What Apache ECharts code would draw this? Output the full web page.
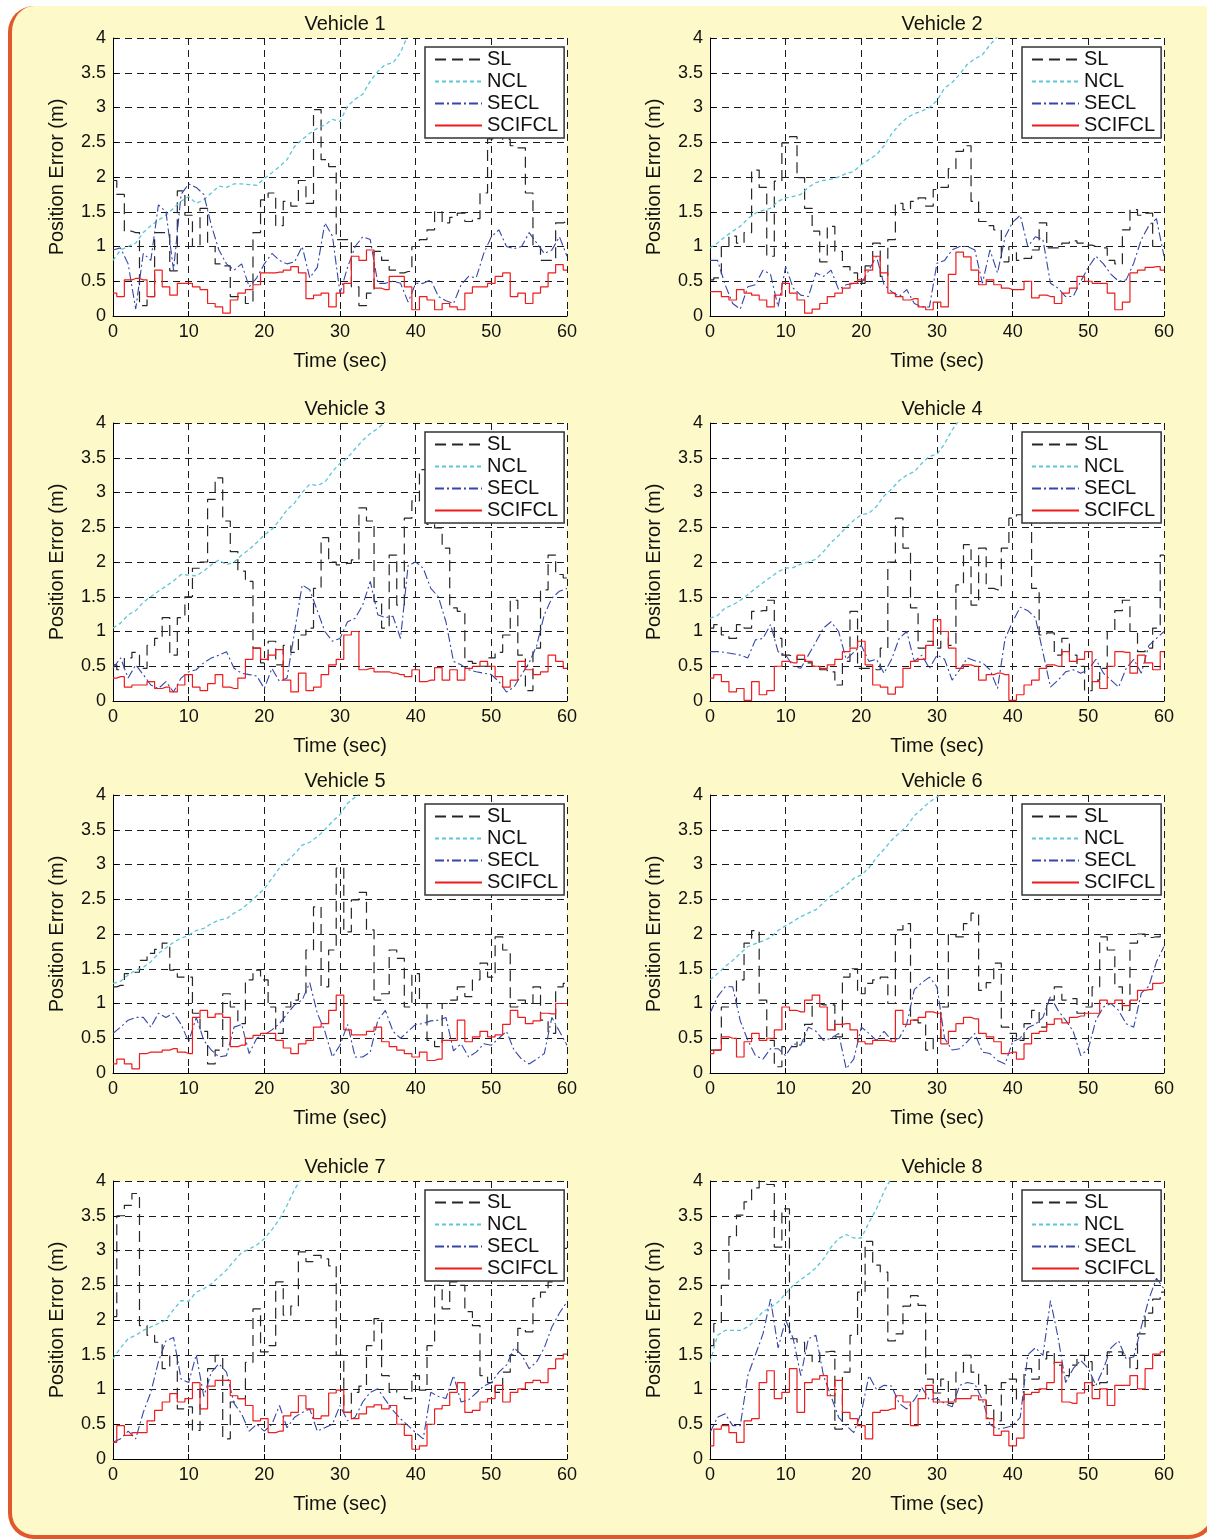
<!DOCTYPE html>
<html>
<head>
<meta charset="utf-8">
<title>Position error per vehicle</title>
<script src="https://cdn.jsdelivr.net/npm/echarts@6.0.0/dist/echarts.min.js"></script>
<style>
  html, body { margin: 0; padding: 0; background: #fff; overflow: hidden; }
  #frame {
    position: absolute; left: 8px; top: 6px; width: 1207px; height: 1533px;
    background: #fdf9c8; box-sizing: border-box;
    border-left: 4px solid #e2582c; border-bottom: 4px solid #e2582c; border-right: 4px solid #e2582c;
    border-radius: 26px 0 26px 26px;
  }
  #chart { position: absolute; left: 0; top: 0; width: 1207px; height: 1539px; }
</style>
</head>
<body>
<div id="frame"></div>
<div id="chart"></div>
<script>
// time axis samples (s)
const seconds = [0,1,2,3,4,5,6,7,8,9,10,11,12,13,14,15,16,17,18,19,20,21,22,23,24,25,26,27,28,29,30,
  31,32,33,34,35,36,37,38,39,40,41,42,43,44,45,46,47,48,49,50,51,52,53,54,55,56,57,58,59,60];
const timeTicks = [0, 10, 20, 30, 40, 50, 60];
const errorTicks = [0, 0.5, 1, 1.5, 2, 2.5, 3, 3.5, 4];
const seriesNames = ['SL', 'NCL', 'SECL', 'SCIFCL'];
const vehicleNames = ['Vehicle 1', 'Vehicle 2', 'Vehicle 3', 'Vehicle 4', 'Vehicle 5', 'Vehicle 6', 'Vehicle 7', 'Vehicle 8'];

// Vehicle 1
const v1SL = [1.95,1.75,1.22,1.2,0.15,0.28,1.2,1.2,0.65,1.8, 1.45,1.0,1.55,1.0,0.75,0.72,0.28,0.28,0.18,1.2,
  1.67,1.77,1.3,1.65,1.58,1.95,1.62,2.97,2.25,2.15, 1.1,1.1,0.42,0.15,0.33,0.93,0.8,0.66,0.62,0.64,
  1.0,1.1,1.24,1.5,1.34,1.42,1.48,1.36,1.4,1.77, 2.55,2.6,2.54,2.45,2.42,1.77,1.0,0.8,0.8,1.34, 1.36];
const v1NCL = [0.8,0.95,1.0,1.05,1.2,1.3,1.38,1.45,1.55,1.65, 1.72,1.62,1.67,1.77,1.87,1.85,1.9,1.9,1.89,1.88,
  1.98,2.06,2.15,2.25,2.44,2.54,2.63,2.7,2.75,2.83, 2.8,3.02,3.12,3.19,3.38,3.52,3.62,3.64,3.79,4.05];
const v1SECL = [0.95,0.98,0.75,0.1,0.9,0.8,1.6,1.5,0.66,1.75, 1.9,1.85,1.75,1.3,0.95,0.75,0.66,0.75,0.42,0.55,
  0.75,0.9,0.8,0.75,0.78,1.0,0.55,0.7,1.34,1.15, 0.33,0.7,1.0,1.14,1.1,0.47,0.47,0.5,0.47,0.2,
  0.47,0.47,0.52,0.28,0.22,0.18,0.45,0.57,0.55,0.9, 1.14,1.24,1.0,0.97,1.0,1.2,1.05,0.9,0.95,1.14, 0.86];
const v1SCIFCL = [0.33,0.28,0.52,0.54,0.52,0.28,0.66,0.42,0.3,0.47, 0.47,0.42,0.38,0.18,0.13,0.04,0.23,0.33,0.38,0.45,
  0.62,0.62,0.63,0.66,0.71,0.62,0.25,0.3,0.33,0.13, 0.33,0.47,0.86,0.8,0.95,0.4,0.38,0.57,0.57,0.42,
  0.09,0.28,0.23,0.09,0.18,0.13,0.09,0.33,0.42,0.42, 0.47,0.57,0.62,0.28,0.33,0.18,0.33,0.42,0.62,0.74, 0.66];

// Vehicle 2
const v2SL = [0.52,0.55,1.0,1.15,1.05,1.2,2.1,1.85,0.86,1.94, 2.49,2.58,1.99,1.55,1.22,0.78,1.29,0.93,0.71,0.62,
  0.47,0.72,1.05,0.57,1.1,1.62,1.53,1.65,1.7,1.58, 1.82,1.85,2.12,2.37,2.45,1.65,1.36,1.3,1.24,0.78,
  1.0,0.8,0.83,0.95,1.34,0.98,0.98,1.05,1.08,1.05, 1.02,1.0,0.98,0.8,0.75,1.24,1.53,1.45,1.48,1.0, 1.0];
const v2NCL = [0.98,1.05,1.14,1.22,1.29,1.4,1.48,1.52,1.55,1.65, 1.7,1.72,1.75,1.85,1.92,1.95,1.97,2.0,2.05,2.08,
  2.18,2.25,2.32,2.45,2.62,2.75,2.85,2.91,2.95,3.0, 3.1,3.28,3.36,3.48,3.62,3.7,3.76,3.9,4.02];
const v2SECL = [0.8,0.8,0.45,0.18,0.1,0.42,0.45,0.66,0.6,0.13, 0.71,0.4,0.3,0.28,0.62,0.57,0.66,0.38,0.45,0.47,
  0.47,0.66,0.86,0.45,0.35,0.28,0.38,0.18,0.13,0.13, 0.76,0.8,0.95,1.0,1.0,0.95,0.47,0.95,0.62,1.14,
  1.35,1.45,1.0,1.14,1.1,0.47,0.4,0.28,0.28,0.5, 0.7,0.86,0.75,0.6,0.5,0.52,0.76,1.1,1.3,1.4, 0.86];
const v2SCIFCL = [0.35,0.35,0.28,0.23,0.38,0.33,0.3,0.23,0.13,0.3, 0.47,0.33,0.23,0.04,0.1,0.18,0.28,0.33,0.4,0.47,
  0.52,0.66,0.86,0.62,0.33,0.28,0.23,0.25,0.13,0.09, 0.2,0.13,0.6,0.92,0.85,0.66,0.45,0.52,0.45,0.4,
  0.38,0.38,0.5,0.26,0.3,0.28,0.18,0.33,0.4,0.57, 0.5,0.47,0.47,0.33,0.09,0.2,0.62,0.66,0.7,0.71, 0.66];

// Vehicle 3
const v3SL = [0.52,0.45,0.62,0.7,0.47,0.8,0.9,1.2,0.66,1.2, 1.5,1.91,2.0,2.9,3.21,2.59,2.15,1.87,1.72,0.76,
  0.55,0.86,0.52,0.8,0.7,0.95,1.05,1.62,2.35,2.0, 1.96,1.98,2.03,2.78,2.59,1.43,1.05,2.1,1.38,2.63,
  2.88,3.33,2.54,2.49,2.2,1.34,1.29,0.57,0.54,0.5, 0.62,0.7,0.95,1.45,0.66,0.15,0.76,1.6,2.1,1.82, 1.77];
const v3NCL = [1.05,1.12,1.24,1.3,1.42,1.5,1.58,1.65,1.73,1.82, 1.81,1.8,1.87,1.96,2.03,1.96,2.0,2.1,2.18,2.28,
  2.39,2.47,2.6,2.75,2.85,3.0,3.12,3.1,3.15,3.3, 3.42,3.5,3.63,3.75,3.85,3.92,4.02];
const v3SECL = [0.47,0.62,0.33,0.52,0.38,0.23,0.18,0.28,0.13,0.33, 0.42,0.45,0.55,0.62,0.66,0.71,0.47,0.4,0.38,0.36,
  0.18,0.47,0.28,0.33,1.0,1.67,1.6,1.3,1.0,0.86, 0.9,1.14,1.19,1.38,1.72,1.24,1.2,1.22,0.9,1.95,
  2.0,1.91,1.62,1.5,1.14,0.57,0.52,0.45,0.42,0.4, 0.38,0.28,0.13,0.2,0.38,0.55,0.8,1.24,1.48,1.58, 1.62];
const v3SCIFCL = [0.33,0.35,0.2,0.23,0.23,0.28,0.18,0.2,0.13,0.23, 0.38,0.2,0.15,0.25,0.38,0.2,0.18,0.33,0.6,0.76,
  0.6,0.66,0.74,0.3,0.13,0.4,0.15,0.2,0.38,0.52, 0.6,0.95,1.0,0.45,0.47,0.42,0.42,0.4,0.38,0.35,
  0.45,0.28,0.3,0.48,0.3,0.45,0.3,0.47,0.5,0.57, 0.5,0.35,0.2,0.3,0.57,0.45,0.38,0.42,0.66,0.57, 0.47];

// Vehicle 4
const v4SL = [1.05,1.1,0.95,0.9,1.1,1.05,1.29,1.3,1.45,0.9, 0.66,0.64,0.6,0.55,0.5,0.45,0.42,0.23,0.57,1.29,
  0.47,0.47,0.45,0.76,2.0,2.63,2.2,1.34,0.76,0.86, 0.76,1.0,0.8,1.67,2.25,1.38,2.2,1.62,1.6,2.2,
  2.63,2.68,2.59,1.62,0.95,0.98,0.66,0.9,0.66,0.5, 0.15,0.3,0.47,1.0,1.3,1.45,1.0,0.71,0.76,1.05, 2.1];
const v4NCL = [1.19,1.23,1.34,1.38,1.45,1.53,1.62,1.7,1.78,1.86, 1.91,1.92,1.97,2.0,2.04,2.15,2.28,2.38,2.5,2.6,
  2.68,2.7,2.8,2.95,3.05,3.17,3.25,3.3,3.42,3.52, 3.55,3.7,3.9,4.05];
const v4SECL = [0.71,0.71,0.7,0.68,0.66,0.62,0.88,0.9,1.1,0.71, 0.66,0.5,0.47,0.66,0.85,1.05,1.14,1.0,0.6,0.7,
  0.8,0.57,0.6,0.4,0.6,0.9,1.0,0.57,0.66,0.47, 0.66,0.6,0.3,0.45,0.62,0.58,0.55,0.45,0.18,0.9,
  1.14,1.35,1.3,1.2,0.7,0.2,0.3,0.42,0.45,0.4, 0.45,0.6,0.4,0.3,0.2,0.47,0.6,0.4,0.8,0.9, 1.0];
const v4SCIFCL = [0.33,0.38,0.28,0.13,0.18,0.01,0.28,0.09,0.15,0.5, 0.57,0.55,0.66,0.57,0.5,0.47,0.52,0.6,0.71,0.76,
  0.86,0.52,0.23,0.2,0.1,0.2,0.47,0.57,0.6,0.8, 1.17,1.0,0.76,0.47,0.52,0.5,0.3,0.38,0.4,0.38,
  0.01,0.09,0.23,0.3,0.47,0.52,0.5,0.71,0.57,0.6, 0.71,0.28,0.18,0.5,0.71,0.7,0.4,0.66,0.55,0.45, 0.71];

// Vehicle 5
const v5SL = [1.24,1.26,1.43,1.45,1.62,1.72,1.78,1.87,1.48,1.38, 1.38,0.86,0.6,0.13,0.33,1.14,0.95,0.71,1.34,1.48,
  1.34,0.95,0.57,0.95,1.05,1.14,1.77,2.39,1.24,1.77, 2.95,2.03,2.49,2.6,2.06,1.05,1.14,1.77,1.65,0.95,
  1.43,1.0,0.47,0.38,1.0,1.05,1.24,1.1,1.34,1.58, 1.38,1.96,1.77,0.95,1.05,1.0,1.24,0.76,0.57,1.24, 1.29];
const v5NCL = [1.29,1.32,1.41,1.48,1.52,1.6,1.72,1.8,1.88,1.94, 1.98,2.05,2.08,2.15,2.2,2.22,2.3,2.36,2.45,2.55,
  2.65,2.8,2.95,3.05,3.15,3.28,3.32,3.4,3.5,3.62, 3.72,3.88,3.97,4.05];
const v5SECL = [0.57,0.66,0.76,0.8,0.8,0.66,0.86,0.8,0.86,0.7, 0.45,0.8,0.47,0.33,0.23,0.25,0.66,0.7,0.28,0.5,
  0.55,0.62,0.71,0.85,0.98,1.05,1.3,0.86,0.6,0.23, 0.4,0.7,0.23,0.23,0.3,0.76,0.9,0.6,0.5,0.6,
  0.7,0.71,0.75,0.76,0.8,0.32,0.42,0.23,0.3,0.42, 0.4,0.5,0.6,0.33,0.2,0.13,0.2,0.28,0.8,0.6, 0.4];
const v5SCIFCL = [0.13,0.2,0.13,0.06,0.28,0.3,0.3,0.33,0.35,0.3, 0.28,0.8,0.9,0.8,0.85,0.8,0.38,0.4,0.5,0.54,
  0.57,0.57,0.47,0.36,0.28,0.42,0.47,0.66,0.71,0.9, 1.12,0.62,0.55,0.55,0.6,0.66,0.45,0.38,0.33,0.28,
  0.23,0.3,0.18,0.2,0.47,0.47,0.76,0.45,0.52,0.6, 0.52,0.55,0.7,0.9,0.8,0.71,0.75,0.86,0.85,1.0, 1.0];

// Vehicle 6
const v6SL = [0.33,0.33,0.95,1.0,1.34,1.87,2.05,1.05,0.47,0.09, 0.38,0.38,0.45,0.7,1.0,0.98,0.98,0.52,1.38,1.5,
  1.14,1.29,1.34,1.38,1.0,2.06,2.15,0.76,0.72,0.33, 0.5,0.95,1.99,1.96,2.15,2.3,1.19,1.3,1.58,0.66,
  0.57,0.47,0.71,0.9,0.66,1.05,1.24,1.05,1.07,0.86, 0.95,1.24,1.96,1.77,1.24,0.9,1.87,2.0,1.95,1.96, 2.0];
const v6NCL = [1.34,1.43,1.53,1.62,1.72,1.82,1.86,1.9,1.95,2.05, 2.12,2.18,2.25,2.3,2.35,2.45,2.55,2.62,2.7,2.8,
  2.85,2.95,3.1,3.22,3.35,3.45,3.55,3.7,3.8,3.9, 3.97,4.05];
const v6SECL = [0.86,1.1,1.24,1.24,0.75,0.47,0.25,0.2,0.35,0.35, 0.25,0.42,0.4,0.66,0.6,0.47,0.5,0.57,0.06,0.2,
  0.66,0.57,0.47,0.6,0.47,0.5,0.7,1.2,1.3,1.38, 1.24,0.5,0.33,0.35,0.45,0.57,0.3,0.28,0.18,0.13,
  0.45,0.5,0.65,0.7,0.8,1.1,0.9,0.76,0.6,0.25, 0.35,0.76,0.95,1.0,0.9,0.71,0.66,1.15,1.25,1.6, 1.82];
const v6SCIFCL = [0.28,0.33,0.52,0.5,0.23,0.45,0.57,0.47,0.5,0.62, 0.95,0.9,0.88,1.05,1.12,0.95,0.62,0.7,0.71,0.62,
  0.45,0.42,0.47,0.47,0.45,0.9,0.7,0.76,0.8,0.88, 0.86,0.42,0.6,0.71,0.8,0.78,0.57,0.52,0.45,0.28,
  0.3,0.2,0.42,0.57,0.6,0.7,0.78,0.72,0.8,0.82, 0.86,0.86,1.05,1.0,1.05,0.97,1.05,1.19,1.2,1.29, 1.3];

// Vehicle 7
const v7SL = [2.05,3.5,3.65,3.82,1.92,1.78,1.68,1.3,1.49,0.72, 0.75,0.41,1.01,1.3,1.49,0.29,0.82,0.87,1.39,2.16,
  1.54,1.63,2.55,2.07,2.2,2.98,2.84,2.93,2.88,2.78, 1.49,0.67,0.96,1.05,1.63,2.02,1.2,0.96,1.0,0.87,
  1.2,0.99,1.63,2.5,2.16,2.55,2.5,2.12,1.92,1.2, 1.1,0.96,1.25,1.5,1.88,1.83,2.31,2.4,2.55,2.62, 3.03];
const v7NCL = [1.44,1.6,1.73,1.78,1.85,1.9,1.95,2.0,2.15,2.28, 2.27,2.4,2.45,2.52,2.62,2.72,2.85,2.97,3.02,3.08,
  3.17,3.3,3.45,3.65,3.88,4.05];
const v7SECL = [0.24,0.29,0.4,0.29,0.67,0.96,1.4,1.7,1.75,1.15, 1.1,1.5,0.9,1.25,1.37,1.25,0.8,0.65,0.4,0.5,
  0.4,0.5,0.77,0.45,0.6,0.67,0.72,0.4,0.45,0.5, 0.77,0.55,0.6,0.82,0.96,1.01,0.85,0.7,0.58,0.48,
  0.38,0.29,0.96,0.9,0.87,1.2,0.82,0.85,0.95,1.05, 1.1,1.25,1.35,1.6,1.5,1.3,1.4,1.6,1.9,2.1, 2.26];
const v7SCIFCL = [0.24,0.48,0.34,0.38,0.38,0.55,0.7,0.82,0.94,0.82, 0.87,1.1,0.72,1.05,1.13,1.13,0.91,0.87,0.77,0.55,
  0.58,0.38,0.4,0.62,0.67,0.91,0.72,0.58,0.62,0.95, 0.99,0.67,0.58,0.65,0.75,0.78,0.72,0.77,0.5,0.34,
  0.14,0.19,0.5,0.72,0.77,0.96,1.1,0.67,0.7,0.82, 0.87,1.06,0.82,0.96,1.01,1.1,1.13,1.1,1.3,1.44, 1.51];

// Vehicle 8
const v8SL = [1.63,1.95,2.5,3.2,3.51,3.7,3.9,4.1,3.95,3.05, 3.6,1.73,1.68,1.49,1.4,1.54,1.55,0.43,1.25,1.78,
  2.4,3.13,2.79,2.69,1.7,1.8,2.2,2.35,2.21,1.15, 0.95,1.15,0.8,1.25,1.49,1.25,1.06,0.77,0.55,1.1,
  1.15,0.85,1.3,1.15,1.44,1.54,1.35,1.2,1.35,1.49, 1.4,1.06,1.1,1.54,1.54,1.49,1.3,1.8,2.1,2.3, 2.4];
const v8NCL = [1.39,1.78,1.85,1.85,1.85,1.9,2.0,2.12,2.18,2.26, 2.38,2.5,2.58,2.66,2.75,2.88,3.05,3.17,3.23,3.18,
  3.18,3.4,3.6,3.85,4.05];
const v8SECL = [0.38,0.6,0.65,0.48,0.48,1.2,1.5,1.8,2.3,1.6, 2.0,1.73,1.2,1.73,1.78,1.2,0.9,0.6,0.48,0.38,
  0.67,1.2,1.0,1.06,1.05,0.8,0.72,0.85,1.03,0.85, 0.87,0.8,0.75,1.06,1.1,1.08,0.85,0.5,0.43,0.45,
  0.48,0.6,1.5,1.6,1.49,2.28,1.75,1.1,1.3,1.42, 1.3,1.06,1.3,1.6,1.7,1.44,1.47,1.9,2.3,2.6, 2.45];
const v8SCIFCL = [0.19,0.43,0.48,0.38,0.24,0.55,0.58,1.1,1.27,0.87, 0.96,1.3,0.67,1.1,1.15,1.2,0.91,1.13,0.67,0.58,
  0.48,0.29,0.67,0.7,0.72,0.91,0.82,0.48,0.87,1.06, 0.82,0.82,0.82,0.87,0.87,0.91,0.85,0.58,0.34,0.4,
  0.19,0.3,0.93,0.96,1.01,1.1,1.39,0.82,0.8,0.95, 1.1,0.87,1.01,0.77,1.06,1.06,1.2,1.01,1.3,1.51, 1.54];

const vehicleSeries = [
  [v1SL, v1NCL, v1SECL, v1SCIFCL],
  [v2SL, v2NCL, v2SECL, v2SCIFCL],
  [v3SL, v3NCL, v3SECL, v3SCIFCL],
  [v4SL, v4NCL, v4SECL, v4SCIFCL],
  [v5SL, v5NCL, v5SECL, v5SCIFCL],
  [v6SL, v6NCL, v6SECL, v6SCIFCL],
  [v7SL, v7NCL, v7SECL, v7SCIFCL],
  [v8SL, v8NCL, v8SECL, v8SCIFCL]
];

// look of each method, MATLAB-ish line styles
const styleFor = {
  SL:     { color: '#262626', width: 1.2, type: [11, 6], step: 'middle' },
  NCL:    { color: '#5cc6d8', width: 1.3, type: [4, 3], step: false },
  SECL:   { color: '#3446a6', width: 1.1, type: [9, 3, 2, 3], step: false },
  SCIFCL: { color: '#ee1c1c', width: 1.2, type: 'solid', step: 'middle' }
};

const FONT = "'Liberation Sans', Arial, sans-serif";
const colLeft = [113, 710];
const rowTop = [38, 423, 795, 1181];
const plotW = 454;
const plotH = 278;

const chart = echarts.init(document.getElementById('chart'), null, { renderer: 'canvas' });

const grids = [], xAxes = [], yAxes = [], legends = [], titles = [], series = [];

vehicleNames.forEach((vName, i) => {
  const left = colLeft[i % 2];
  const top = rowTop[Math.floor(i / 2)];

  grids.push({
    left: left, top: top, width: plotW, height: plotH,
    show: true, backgroundColor: '#fff', borderWidth: 0
  });

  titles.push({
    text: vName,
    left: left + plotW / 2, top: top - 29, textAlign: 'center',
    textStyle: { fontSize: 20, fontWeight: 'normal', color: '#111', fontFamily: FONT }
  });

  xAxes.push({
    gridIndex: i, type: 'value', min: timeTicks[0], max: timeTicks[timeTicks.length - 1], interval: 10,
    name: 'Time (sec)', nameLocation: 'middle', nameGap: 35,
    nameTextStyle: { fontSize: 20, color: '#111', fontFamily: FONT },
    axisLine: { show: true, onZero: false, lineStyle: { color: '#000', width: 1 } },
    axisTick: { show: true, inside: true, length: 5, lineStyle: { color: '#000' } },
    axisLabel: { fontSize: 18, color: '#111', margin: 7, fontFamily: FONT },
    splitLine: { show: true, showMinLine: true, showMaxLine: true, lineStyle: { color: '#1a1a1a', width: 1, type: [7, 5] } }
  });

  yAxes.push({
    gridIndex: i, type: 'value', min: errorTicks[0], max: errorTicks[errorTicks.length - 1], interval: 0.5,
    name: 'Position Error (m)', nameLocation: 'middle', nameGap: 46,
    nameTextStyle: { fontSize: 20, color: '#111', fontFamily: FONT },
    axisLine: { show: true, onZero: false, lineStyle: { color: '#000', width: 1 } },
    axisTick: { show: true, inside: true, length: 5, lineStyle: { color: '#000' } },
    axisLabel: { fontSize: 18, color: '#111', margin: 7, fontFamily: FONT },
    splitLine: { show: true, showMinLine: true, showMaxLine: true, lineStyle: { color: '#1a1a1a', width: 1, type: [7, 5] } }
  });

  legends.push({
    data: seriesNames, orient: 'vertical',
    left: left + 312, top: top + 9,
    itemWidth: 47, itemHeight: 12, itemGap: 1,
    padding: [2, 6, 2, 9],
    backgroundColor: '#fff', borderColor: '#333', borderWidth: 1.5,
    selectedMode: false,
    // hide the marker dot, keep only the line sample
    itemStyle: { opacity: 0 },
    textStyle: { fontSize: 20, lineHeight: 21, color: '#111', fontFamily: FONT }
  });

  vehicleSeries[i].forEach((values, k) => {
    const name = seriesNames[k];
    const st = styleFor[name];
    series.push({
      type: 'line', name: name,
      xAxisIndex: i, yAxisIndex: i,
      data: values.map((v, j) => [seconds[j], v]),
      step: st.step, symbol: 'none', clip: true, silent: true,
      lineStyle: { color: st.color, width: st.width, type: st.type },
      itemStyle: { color: st.color },
      z: 2 + k
    });
  });
});

chart.setOption({
  backgroundColor: 'transparent',
  animation: false,
  textStyle: { fontFamily: FONT },
  title: titles,
  grid: grids,
  xAxis: xAxes,
  yAxis: yAxes,
  legend: legends,
  series: series
});

window.addEventListener('resize', () => chart.resize());
</script>
</body>
</html>
